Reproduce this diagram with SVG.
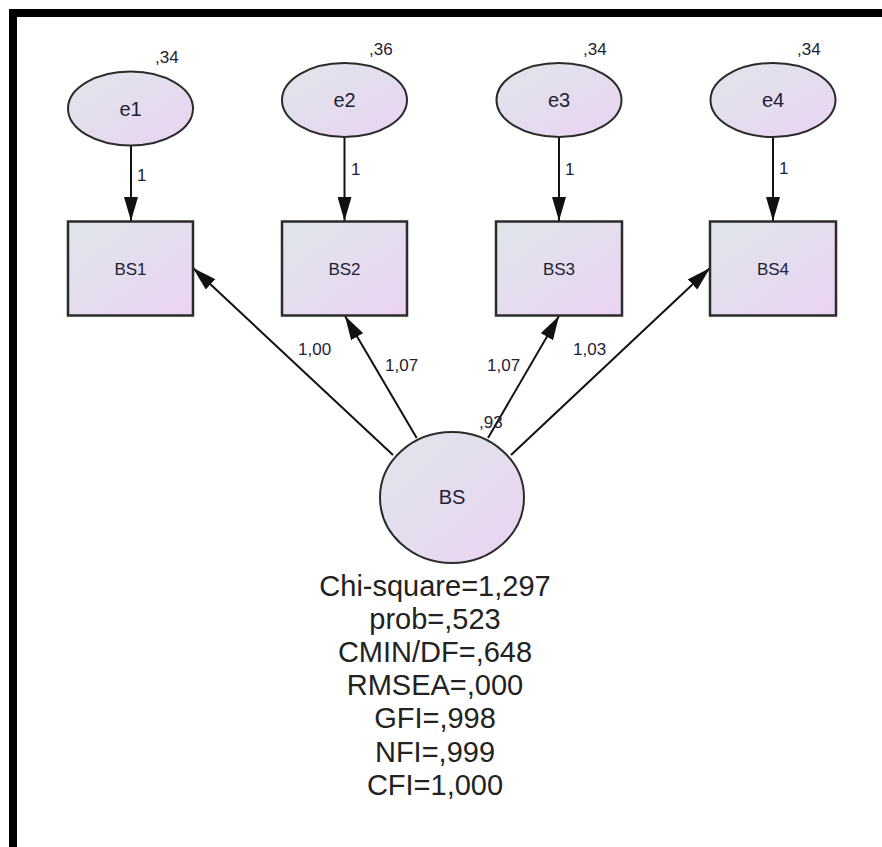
<svg xmlns="http://www.w3.org/2000/svg" width="882" height="847" viewBox="0 0 882 847">
<style>
.shape{stroke:#2b2b2b;stroke-width:2;fill:url(#g)}
.rect{stroke:#2b2b2b;stroke-width:2.5;fill:url(#g)}
.conn{stroke:#111;stroke-width:2;fill:none;marker-end:url(#ah)}
text{font-family:"Liberation Sans",Arial,sans-serif;fill:#1f2235}
.lbl{font-size:20px;text-anchor:middle}
.obs{font-size:17px;text-anchor:middle}
.num{font-size:17px}
.stat{font-size:29px;text-anchor:middle;fill:#222}
</style>
<defs>
<linearGradient id="g" x1="0" y1="0" x2="1" y2="1">
<stop offset="0" stop-color="#dfe6ea"/>
<stop offset="1" stop-color="#ebd3f3"/>
</linearGradient>
<marker id="ah" markerUnits="userSpaceOnUse" markerWidth="24" markerHeight="14" refX="24" refY="7" orient="auto">
<path d="M0,0 L24,7 L0,14 z" fill="#111"/>
</marker>
</defs>
<rect x="0" y="0" width="882" height="847" fill="#ffffff"/>
<rect x="9" y="9" width="873" height="8" fill="#000"/>
<rect x="9" y="9" width="8" height="838" fill="#000"/>

<g id="connectors">
<line class="conn" x1="131" y1="146" x2="131" y2="221"/>
<line class="conn" x1="344.5" y1="137.5" x2="344.5" y2="221"/>
<line class="conn" x1="559" y1="137.5" x2="559" y2="221"/>
<line class="conn" x1="773" y1="137.5" x2="773" y2="221"/>
<line class="conn" x1="393" y1="455" x2="193" y2="268"/>
<line class="conn" x1="416.7" y1="438" x2="345" y2="316"/>
<line class="conn" x1="488" y1="438" x2="559" y2="316"/>
<line class="conn" x1="511" y1="455" x2="710" y2="268"/>
<text class="num" x="137" y="181">1</text>
<text class="num" x="351" y="175">1</text>
<text class="num" x="565" y="175">1</text>
<text class="num" x="779" y="174">1</text>
<text class="num" x="298" y="355">1,00</text>
<text class="num" x="385" y="371">1,07</text>
<text class="num" x="487" y="371">1,07</text>
<text class="num" x="573" y="355">1,03</text>
</g>

<g id="e1">
<ellipse class="shape" cx="130.5" cy="108.5" rx="62.5" ry="37"/>
<text class="lbl" x="130.5" y="116">e1</text>
<text class="num" x="155" y="63">,34</text>
</g>
<g id="e2">
<ellipse class="shape" cx="344.5" cy="100" rx="62.5" ry="37"/>
<text class="lbl" x="344.5" y="107">e2</text>
<text class="num" x="369" y="55">,36</text>
</g>
<g id="e3">
<ellipse class="shape" cx="559" cy="100" rx="62.5" ry="37"/>
<text class="lbl" x="559" y="107">e3</text>
<text class="num" x="583" y="55">,34</text>
</g>
<g id="e4">
<ellipse class="shape" cx="773" cy="100" rx="62.5" ry="37"/>
<text class="lbl" x="773" y="107">e4</text>
<text class="num" x="797" y="55">,34</text>
</g>

<g id="BS1">
<rect class="rect" x="68" y="221.5" width="125" height="94"/>
<text class="obs" x="130.5" y="275">BS1</text>
</g>
<g id="BS2">
<rect class="rect" x="282" y="221.5" width="125" height="94"/>
<text class="obs" x="344.5" y="275">BS2</text>
</g>
<g id="BS3">
<rect class="rect" x="496" y="221.5" width="126" height="94"/>
<text class="obs" x="559" y="275">BS3</text>
</g>
<g id="BS4">
<rect class="rect" x="710" y="221.5" width="126" height="94"/>
<text class="obs" x="773" y="275">BS4</text>
</g>

<g id="BS">
<ellipse class="shape" cx="452" cy="497.5" rx="72" ry="65.5"/>
<text class="lbl" x="452" y="504">BS</text>
<text class="num" x="479" y="428">,93</text>
</g>

<g id="fit">
<text class="stat" x="435" y="596">Chi-square=1,297</text>
<text class="stat" x="435" y="629">prob=,523</text>
<text class="stat" x="435" y="662">CMIN/DF=,648</text>
<text class="stat" x="435" y="695">RMSEA=,000</text>
<text class="stat" x="435" y="728">GFI=,998</text>
<text class="stat" x="435" y="762">NFI=,999</text>
<text class="stat" x="435" y="795">CFI=1,000</text>
</g>
</svg>
